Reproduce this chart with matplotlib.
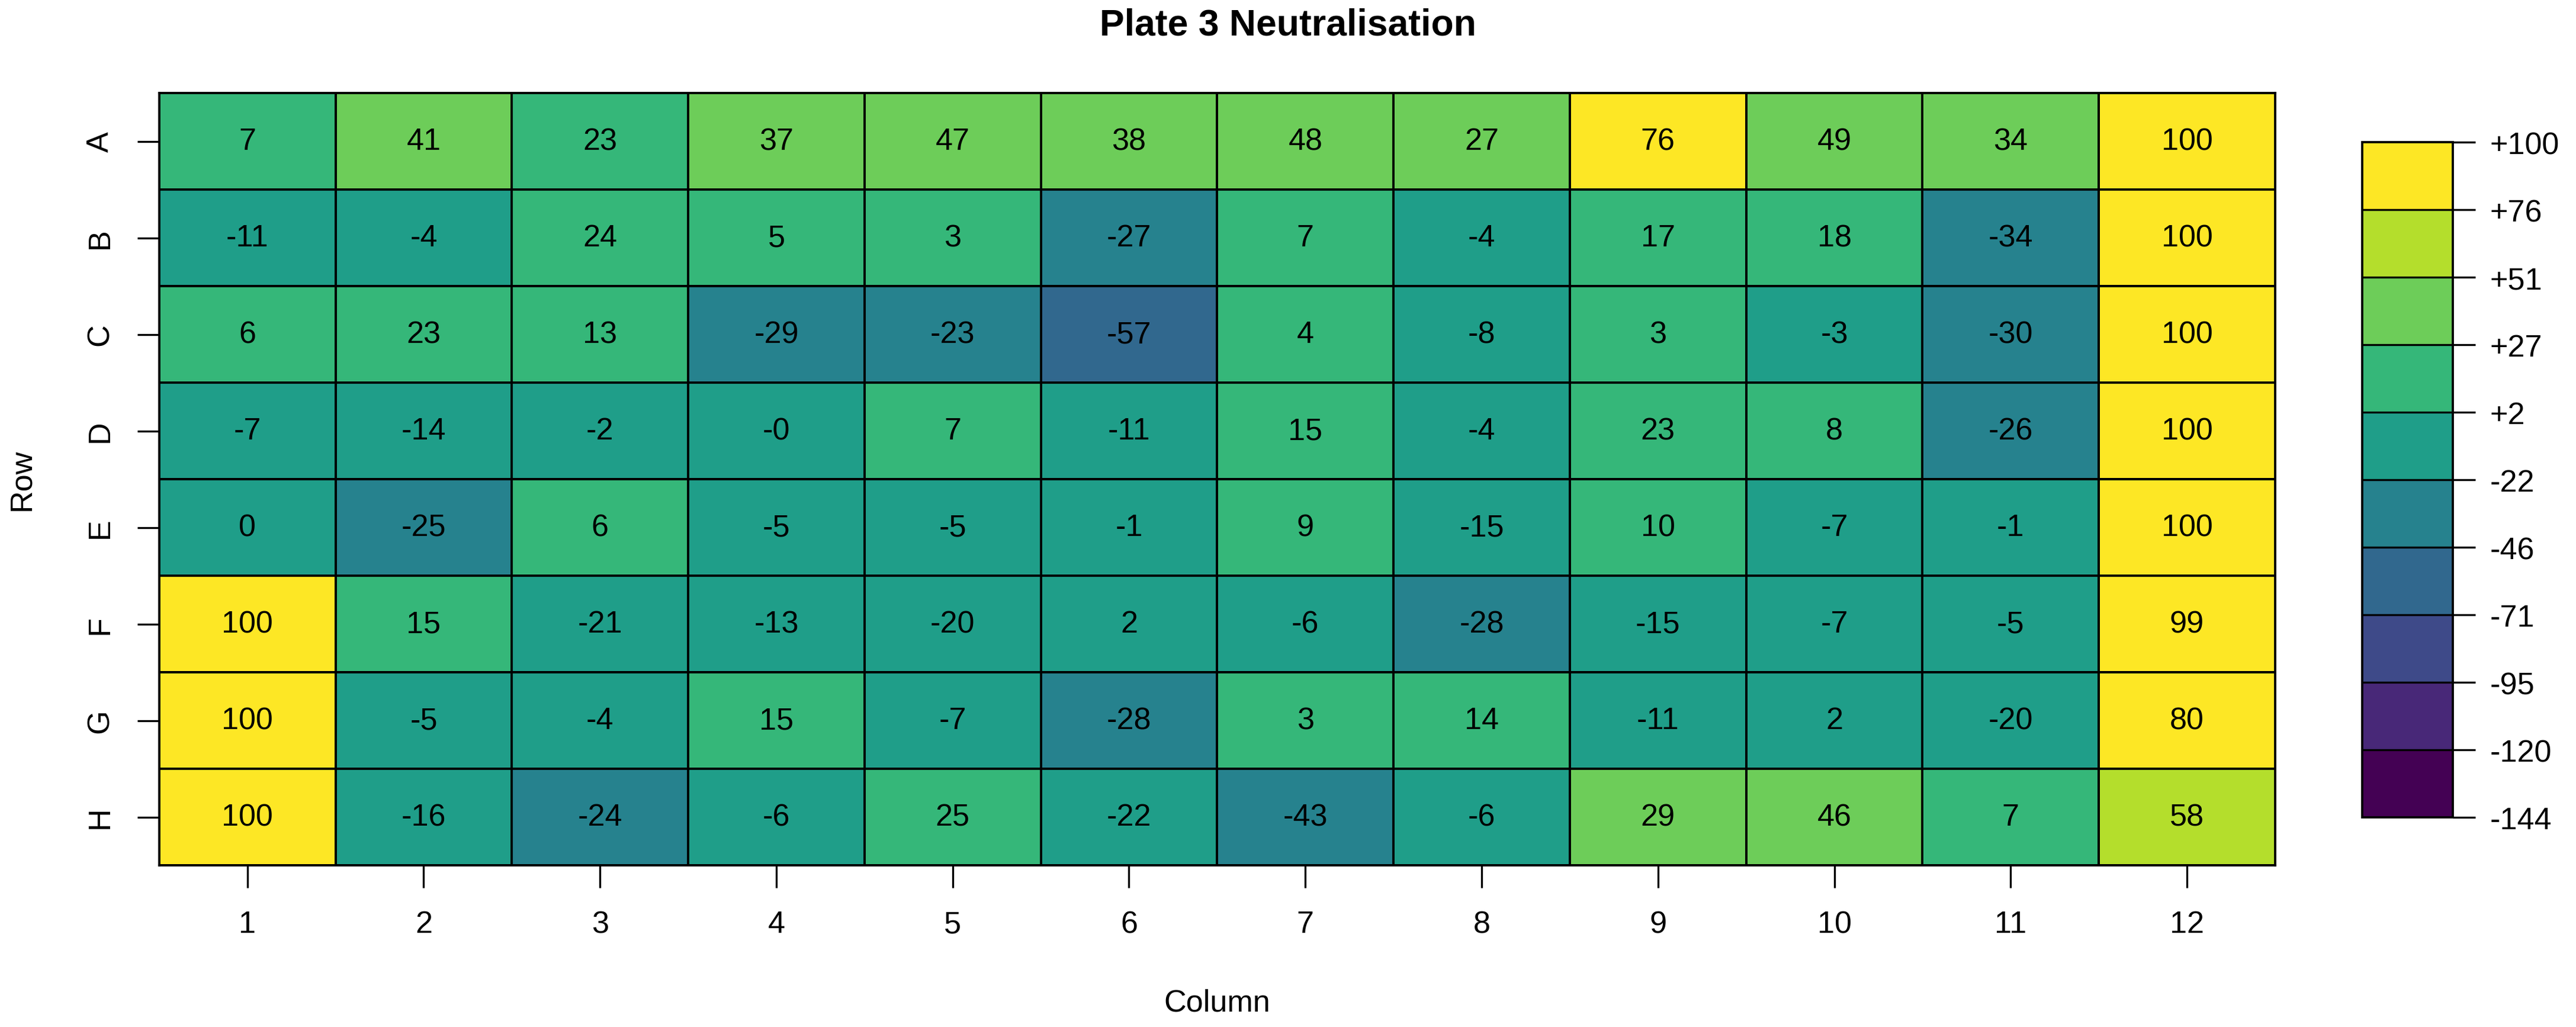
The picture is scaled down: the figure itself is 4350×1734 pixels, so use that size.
import matplotlib
matplotlib.use("Agg")
import matplotlib.pyplot as plt
import numpy as np
from matplotlib.colors import ListedColormap, BoundaryNorm
from matplotlib.cm import ScalarMappable

plt.rcParams['font.family'] = ['Liberation Sans', 'DejaVu Sans']

rows = ["A", "B", "C", "D", "E", "F", "G", "H"]
cols = [str(i) for i in range(1, 13)]

row_a = [7, 41, 23, 37, 47, 38, 48, 27, 76, 49, 34, 100]
row_b = [-11, -4, 24, 5, 3, -27, 7, -4, 17, 18, -34, 100]
row_c = [6, 23, 13, -29, -23, -57, 4, -8, 3, -3, -30, 100]
row_d = [-7, -14, -2, -0.3, 7, -11, 15, -4, 23, 8, -26, 100]
row_e = [0, -25, 6, -5, -5, -1, 9, -15, 10, -7, -1, 100]
row_f = [100, 15, -21, -13, -20, 2, -6, -28, -15, -7, -5, 99]
row_g = [100, -5, -4, 15, -7, -28, 3, 14, -11, 2, -20, 80]
row_h = [100, -16, -24, -6, 25, -22, -43, -6, 29, 46, 7, 58]

colours = ["#440154", "#482878", "#3E4A89", "#31688E", "#26828E",
           "#1F9E89", "#35B779", "#6DCD59", "#B4DE2C", "#FDE725"]
vmin, vmax = -144, 100

data = np.array([row_a, row_b, row_c, row_d, row_e, row_f, row_g, row_h], dtype=float)
edges = np.round(np.linspace(vmin, vmax, len(colours) + 1), 1)
cmap = ListedColormap(colours)
norm = BoundaryNorm(edges, cmap.N)

fs = 12.5

fig = plt.figure(figsize=(14.5, 5.7833), dpi=300)
ax = fig.add_axes([0.0618, 0.1573, 0.8214, 0.7516])
ax.pcolormesh(np.arange(13), np.arange(9), data, cmap=cmap, norm=norm,
              edgecolors='black', linewidth=0.9)
ax.set_xlim(0, 12)
ax.set_ylim(8, 0)

for i in range(data.shape[0]):
    for j in range(data.shape[1]):
        ax.text(j + 0.5, i + 0.5, "%.0f" % data[i, j], ha='center', va='center',
                fontsize=fs, color='black')

ax.set_xticks(np.arange(12) + 0.5)
ax.set_xticklabels(cols)
ax.set_yticks(np.arange(8) + 0.5)
ax.set_yticklabels(rows, rotation=90, va='center')
ax.tick_params(axis='both', length=9, width=0.8, labelsize=fs, pad=9)
for s in ax.spines.values():
    s.set_linewidth(0.9)

ax.set_xlabel("Column", fontsize=fs, labelpad=20)
ax.set_ylabel("Row", fontsize=fs, labelpad=20)
fig.suptitle("Plate 3 Neutralisation", fontsize=15, fontweight='bold', y=0.992)

cax = fig.add_axes([0.917, 0.204, 0.0352, 0.657])
cb = fig.colorbar(ScalarMappable(norm=norm, cmap=cmap), cax=cax, ticks=edges,
                  drawedges=True)
cb.ax.set_yticklabels([("%+.0f" % e) for e in edges])
cb.ax.tick_params(length=9, width=0.8, labelsize=fs, pad=6)
cb.outline.set_linewidth(0.9)
cb.dividers.set_linewidth(0.8)

fig.savefig("out.png", dpi=300)
